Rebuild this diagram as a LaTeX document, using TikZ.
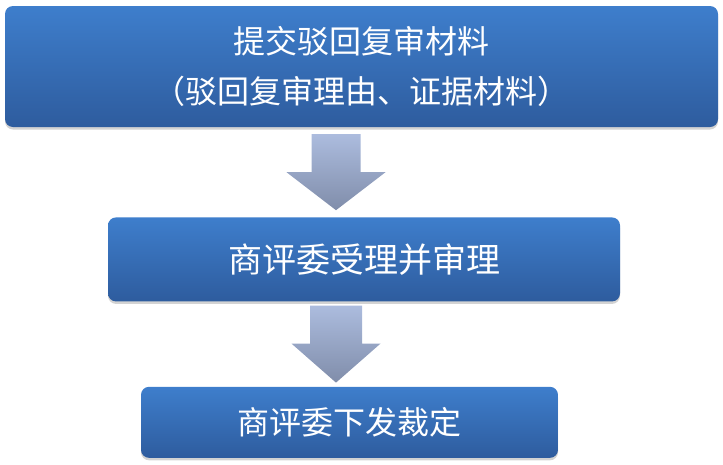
\documentclass[tikz,border=0pt]{standalone}
\usepackage{fontspec}
\newfontfamily\cjkfont{Noto Sans CJK SC}
\usetikzlibrary{calc,positioning,shadows}
\usepackage{xcolor}
\definecolor{boxTop}{RGB}{62,126,204}
\definecolor{boxBottom}{RGB}{46,92,158}
\definecolor{arrowTop}{RGB}{172,188,222}
\definecolor{arrowBottom}{RGB}{128,141,170}
\newcommand{\stepfont}{\cjkfont\fontsize{32}{50}\selectfont}
\newcommand{\stepbigfont}{\cjkfont\fontsize{34}{40}\selectfont}
% #1 top, #2 tip, #3 half shaft, #4 half head, #5 head length
\newcommand{\blockarrow}[5]{%
  \path[downarr] let \p1=(#1), \p2=(#2) in
    (\x1-#3,\y1) -- (\x1+#3,\y1) -- (\x1+#3,\y2+#5) -- (\x1+#4,\y2+#5)
    -- (\x2,\y2) -- (\x1-#4,\y2+#5) -- (\x1-#3,\y2+#5) -- cycle;}

\begin{document}
\begin{tikzpicture}[
        stepbox/.style={rounded corners=8pt, top color=boxTop, bottom color=boxBottom, text=white, align=center, inner sep=0pt,
          drop shadow={shadow xshift=0pt, shadow yshift=-2.5pt, opacity=0.35}},
        downarr/.style={top color=arrowTop, bottom color=arrowBottom, draw=none},
        node distance=90pt
      ]
      \useasboundingbox (0,0) rectangle (723pt,-464pt);
      \node[stepbox, minimum width=713pt, minimum height=121pt, font=\stepfont] (submit) at (361.5pt,-66.5pt)
        {提交驳回复审材料\\（驳回复审理由、证据材料）};
      \node[stepbox, minimum width=512pt, minimum height=84pt, font=\stepbigfont, below=90pt of submit, xshift=2.5pt] (review)
        {商评委受理并审理};
      \node[stepbox, minimum width=417pt, minimum height=71pt, font=\stepfont, below=85pt of review, xshift=-14.5pt] (ruling)
        {商评委下发裁定};

      \coordinate (a1top) at ($(submit.south)+(-25.5pt,-7pt)$);
      \coordinate (a1tip) at ($(review.north)+(-28pt,7pt)$);
      \coordinate (a2top) at ($(review.south)+(-28pt,-4pt)$);
      \coordinate (a2tip) at ($(ruling.north)+(-13.5pt,4pt)$);

      \blockarrow{a1top}{a1tip}{24.5pt}{49.5pt}{38pt}
      \blockarrow{a2top}{a2tip}{26pt}{44.5pt}{39pt}
    \end{tikzpicture}
\end{document}
